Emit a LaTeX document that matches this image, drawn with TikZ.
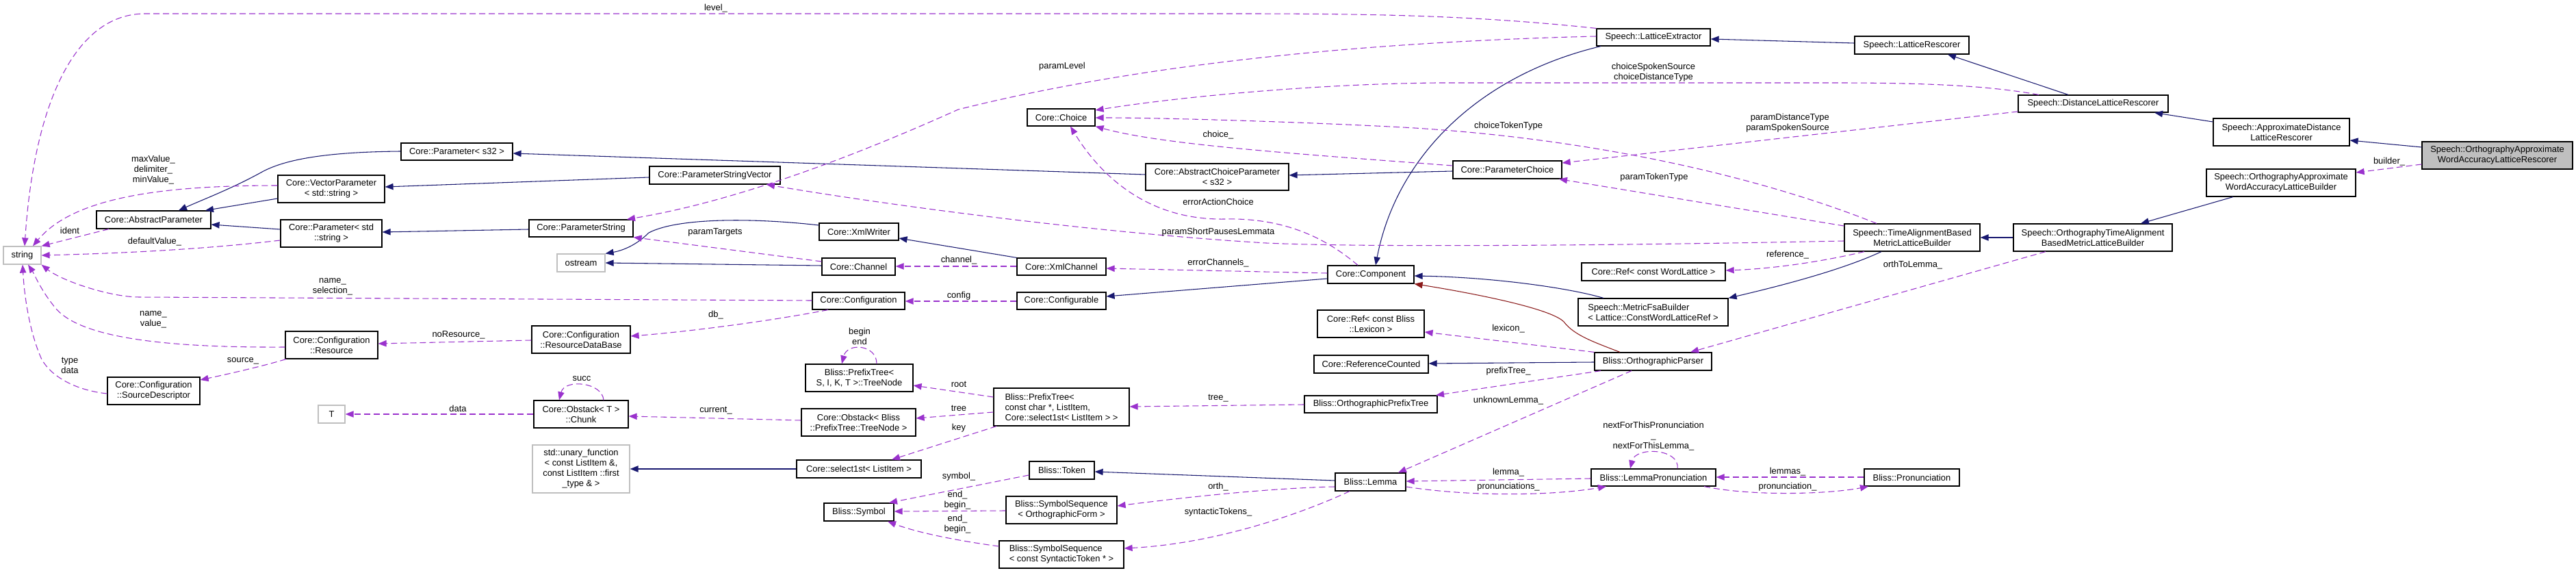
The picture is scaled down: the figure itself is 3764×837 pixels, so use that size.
\documentclass[tikz,border=0pt]{standalone}
\usepackage{fontspec}
\setmainfont{Liberation Sans}
\usetikzlibrary{arrows.meta}
\definecolor{dblue}{HTML}{191970}
\definecolor{purp}{HTML}{9A32CD}
\definecolor{dred}{HTML}{8B1A1A}
\definecolor{gbord}{HTML}{BFBFBF}
\definecolor{gfill}{HTML}{BFBFBF}
\tikzset{
  clsbox/.style={draw=black, line width=0.9pt, fill=white, inner sep=1pt, align=center, font=\fontsize{9.7}{11.25}\selectfont},
  extbox/.style={draw=gbord},
  focusbox/.style={fill=gfill},
  lbl/.style={inner sep=0pt, align=center, font=\fontsize{9.7}{11.25}\selectfont},
  inhline/.style={draw=dblue, line width=0.8pt, -{Triangle[length=9pt,width=7pt]}},
  privline/.style={draw=dred, line width=0.8pt, -{Triangle[length=9pt,width=7pt]}},
  useline/.style={draw=purp, line width=0.8pt, dash pattern=on 6.75pt off 3.75pt, -{Triangle[length=9pt,width=7pt]}},
}
\newcommand{\mkcls}[7][]{%
  \node[clsbox,#1,minimum width={(#5-#3)*0.75pt},minimum height={(#6-#4)*0.75pt}] (#2) at ({(#3+#5)/2},{(#4+#6)/2}) {#7};}
\begin{document}
\begin{tikzpicture}[x=0.75pt,y=-0.75pt]
\fill[white] (0,0) rectangle (3764,837);
\useasboundingbox (0,0) rectangle (3764,837);
% nodes
\mkcls[extbox]{string}{5}{360}{60}{386}{string}
\mkcls{absparam}{141}{308}{308}{334}{Core::AbstractParameter}
\mkcls{vecparam}{406}{256}{562}{296}{Core::VectorParameter\\< std::string >}
\mkcls{paramstr}{410}{321}{558}{361}{Core::Parameter< std\\::string >}
\mkcls{params32}{586}{209}{749}{234}{Core::Parameter< s32 >}
\mkcls{resource}{417}{484}{552}{524}{Core::Configuration\\::Resource}
\mkcls{srcdesc}{157}{551}{292}{591}{Core::Configuration\\::SourceDescriptor}
\mkcls[extbox]{tnode}{465}{592}{504}{618}{T}
\mkcls{psv}{949}{243}{1140}{269}{Core::ParameterStringVector}
\mkcls{pstring}{773}{321}{925}{346}{Core::ParameterString}
\mkcls[extbox]{ostream}{814}{371}{884}{397}{ostream}
\mkcls{xmlwriter}{1197}{326}{1313}{351}{Core::XmlWriter}
\mkcls{channel}{1201}{377}{1308}{402}{Core::Channel}
\mkcls{rdb}{777}{476}{921}{516}{Core::Configuration\\::ResourceDataBase}
\mkcls{config}{1187}{427}{1322}{452}{Core::Configuration}
\mkcls{treenode}{1177}{532}{1334}{572}{Bliss::PrefixTree<\\S, I, K, T >::TreeNode}
\mkcls{chunk}{780}{585}{918}{625}{Core::Obstack< T >\\::Chunk}
\mkcls{obstack}{1171}{597}{1338}{637}{Core::Obstack< Bliss\\::PrefixTree::TreeNode >}
\mkcls[extbox]{unary}{778}{650}{920}{720}{std::unary\_function\\< const ListItem \&,\\const ListItem ::first\\\_type \& >}
\mkcls{select1st}{1164}{672}{1346}{698}{Core::select1st< ListItem >}
\mkcls{symbol}{1204}{735}{1306}{761}{Bliss::Symbol}
\mkcls{choice}{1501}{159}{1600}{184}{Core::Choice}
\mkcls{acp}{1674}{239}{1883}{278}{Core::AbstractChoiceParameter\\< s32 >}
\mkcls{xmlchannel}{1486}{377}{1616}{402}{Core::XmlChannel}
\mkcls{configurable}{1486}{427}{1616}{452}{Core::Configurable}
\mkcls[align=left]{ptree}{1452}{567}{1650}{622}{Bliss::PrefixTree<\\ const char *, ListItem,\\ Core::select1st< ListItem > >}
\mkcls{token}{1504}{674}{1599}{700}{Bliss::Token}
\mkcls{sso}{1470}{725}{1632}{765}{Bliss::SymbolSequence\\< OrthographicForm >}
\mkcls[align=left]{sst}{1460}{790}{1642}{830}{Bliss::SymbolSequence\\< const SyntacticToken * >}
\mkcls{lext}{2333}{42}{2499}{67}{Speech::LatticeExtractor}
\mkcls{pchoice}{2123}{235}{2282}{261}{Core::ParameterChoice}
\mkcls{component}{1940}{388}{2066}{414}{Core::Component}
\mkcls{refwl}{2311}{384}{2521}{410}{Core::Ref< const WordLattice >}
\mkcls[align=left]{mfsa}{2306}{436}{2525}{476}{Speech::MetricFsaBuilder\\< Lattice::ConstWordLatticeRef >}
\mkcls{reflex}{1925}{453}{2081}{493}{Core::Ref< const Bliss\\::Lexicon >}
\mkcls{refcount}{1920}{519}{2087}{545}{Core::ReferenceCounted}
\mkcls{opt}{1906}{578}{2100}{603}{Bliss::OrthographicPrefixTree}
\mkcls{oparser}{2330}{515}{2501}{541}{Bliss::OrthographicParser}
\mkcls{lemma}{1951}{691}{2054}{717}{Bliss::Lemma}
\mkcls{lpron}{2325}{685}{2507}{710}{Bliss::LemmaPronunciation}
\mkcls{lrescorer}{2710}{53}{2877}{79}{Speech::LatticeRescorer}
\mkcls{dlr}{2949}{139}{3168}{164}{Speech::DistanceLatticeRescorer}
\mkcls{tab}{2695}{327}{2893}{367}{Speech::TimeAlignmentBased\\MetricLatticeBuilder}
\mkcls{otab}{2942}{327}{3174}{367}{Speech::OrthographyTimeAlignment\\BasedMetricLatticeBuilder}
\mkcls{pron}{2724}{685}{2863}{710}{Bliss::Pronunciation}
\mkcls{adlr}{3234}{173}{3433}{213}{Speech::ApproximateDistance\\LatticeRescorer}
\mkcls[focusbox]{oawalr}{3539}{207}{3759}{247}{Speech::OrthographyApproximate\\WordAccuracyLatticeRescorer}
\mkcls{oawalb}{3224}{247}{3442}{287}{Speech::OrthographyApproximate\\WordAccuracyLatticeBuilder}
% inheritance
\draw[inhline] (vecparam.west |- 0,290) -- (300,0 |- absparam.north);
\draw[inhline] (paramstr.west |- 0,335) -- (absparam.east |- 0,328);
\draw[inhline] (params32.west |- 0,221) .. controls (480,222) and (420,232) .. (385,250) .. controls (340,275) and (300,290) .. (261,0 |- absparam.north);
\draw[inhline] (psv.west |- 0,259) -- (vecparam.east |- 0,273);
\draw[inhline] (pstring.west |- 0,335) -- (paramstr.east |- 0,339);
\draw[inhline] (acp.west |- 0,255) -- (params32.east |- 0,224);
\draw[inhline] (pchoice.west |- 0,250) -- (acp.east |- 0,256);
\draw[inhline] (xmlwriter.west |- 0,329) .. controls (1100,318) and (990,318) .. (948,340) .. controls (930,358) and (910,366) .. (ostream.north east);
\draw[inhline] (channel.west |- 0,388) -- (ostream.east |- 0,384);
\draw[inhline] (xmlchannel.north west) -- (xmlwriter.east |- 0,348);
\draw[inhline] (component.west |- 0,407) -- (configurable.east |- 0,433);
\draw[inhline] (2339,0 |- lext.south) .. controls (2160,110) and (2040,230) .. (2010,0 |- component.north);
\draw[inhline] (lrescorer.west |- 0,63) -- (lext.east |- 0,57);
\draw[inhline] (3022,0 |- dlr.north) -- (2846,0 |- lrescorer.south);
\draw[inhline] (adlr.west |- 0,178) -- (3148,0 |- dlr.south);
\draw[inhline] (oawalr.west |- 0,215) -- (adlr.east |- 0,205);
\draw[inhline] (3263,0 |- oawalb.south) -- (3128,0 |- otab.north);
\draw[inhline] (otab.west |- 0,347) -- (tab.east |- 0,347);
\draw[inhline] (2749,0 |- tab.south) .. controls (2690,395) and (2600,418) .. (mfsa.north east);
\draw[inhline] (2343,0 |- mfsa.north) .. controls (2290,420) and (2180,405) .. (component.east |- 0,403);
\draw[inhline] (oparser.west |- 0,529) -- (refcount.east |- 0,531);
\draw[privline] (2367,0 |- oparser.north) .. controls (2330,500) and (2300,490) .. (2285,470) .. controls (2265,450) and (2150,428) .. (component.south east);
\draw[inhline] (lemma.west |- 0,702) -- (token.east |- 0,689);
\draw[inhline] (select1st.west |- 0,685) -- (unary.east |- 0,685);
% usage
\draw[useline] (lext.north west) .. controls (2150,22) and (2000,20) .. (1800,20) -- (212,20) .. controls (110,20) and (50,150) .. (36,0 |- string.north);
\draw[useline] (vecparam.west |- 0,271) .. controls (250,271) and (110,285) .. (48,0 |- string.north);
\draw[useline] (159,0 |- absparam.south) -- (string.north east);
\draw[useline] (paramstr.west |- 0,351) .. controls (300,364) and (180,370) .. (string.east |- 0,373);
\draw[useline] (config.west |- 0,439) -- (204,434) .. controls (160,434) and (90,410) .. (string.south east);
\draw[useline] (resource.west |- 0,507) .. controls (250,508) and (120,495) .. (82,451) .. controls (60,425) and (50,400) .. (41,0 |- string.south);
\draw[useline] (srcdesc.west |- 0,575) .. controls (110,570) and (75,550) .. (61,525) .. controls (45,490) and (36,440) .. (33,0 |- string.south);
\draw[useline] (418,0 |- resource.south) .. controls (380,536) and (330,547) .. (srcdesc.east |- 0,555);
\draw[useline] (rdb.west |- 0,497) -- (resource.east |- 0,502);
\draw[useline] (1210,0 |- config.south) .. controls (1120,470) and (1000,485) .. (rdb.east |- 0,491);
\draw[useline] (configurable.west |- 0,440) -- (config.east |- 0,440);
\draw[useline] (chunk.west |- 0,605) -- (tnode.east |- 0,605);
\draw[useline] (882,0 |- chunk.north) .. controls (880,558) and (825,553) .. (817,0 |- chunk.north);
\draw[useline] (obstack.west |- 0,614) -- (chunk.east |- 0,608);
\draw[useline] (1281,0 |- treenode.north) .. controls (1281,503) and (1238,500) .. (1230,0 |- treenode.north);
\draw[useline] (ptree.west |- 0,580) -- (treenode.east |- 0,563);
\draw[useline] (ptree.west |- 0,602) -- (obstack.east |- 0,611);
\draw[useline] (1456,0 |- ptree.south) -- (1303,0 |- select1st.north);
\draw[useline] (opt.west |- 0,591) -- (ptree.east |- 0,594);
\draw[useline] (token.west |- 0,694) -- (1299,0 |- symbol.north);
\draw[useline] (sso.west |- 0,746) -- (symbol.east |- 0,747);
\draw[useline] (sst.west |- 0,798) .. controls (1400,790) and (1340,778) .. (1297,0 |- symbol.south);
\draw[useline] (lemma.west |- 0,711) .. controls (1850,713) and (1720,728) .. (sso.east |- 0,739);
\draw[useline] (1972,0 |- lemma.south) .. controls (1880,760) and (1760,795) .. (sst.east |- 0,801);
\draw[useline] (component.west |- 0,399) -- (xmlchannel.east |- 0,392);
\draw[useline] (1984,0 |- component.north) .. controls (1940,350) and (1880,318) .. (1790,320) .. controls (1680,322) and (1610,260) .. (1564,0 |- choice.south);
\draw[useline] (pchoice.west |- 0,242) .. controls (1900,225) and (1700,212) .. (choice.south east);
\draw[useline] (2979,0 |- dlr.north) .. controls (2900,124) and (2800,121) .. (2680,121) -- (2100,121) .. controls (1900,123) and (1700,145) .. (choice.east |- 0,161);
\draw[useline] (2742,0 |- tab.north) .. controls (2550,250) and (2300,200) .. (2050,186) .. controls (1900,178) and (1700,172) .. (choice.east |- 0,172);
\draw[useline] (dlr.west |- 0,163) -- (pchoice.east |- 0,238);
\draw[useline] (tab.west |- 0,330) -- (2278,0 |- pchoice.south);
\draw[useline] (lext.west |- 0,53) .. controls (2050,60) and (1700,85) .. (1400,160) .. controls (1300,205) and (1100,290) .. (916,0 |- pstring.north);
\draw[useline] (tab.west |- 0,352) .. controls (2400,358) and (2000,362) .. (1850,355) .. controls (1600,340) and (1300,300) .. (1120,0 |- psv.south);
\draw[useline] (2724,0 |- tab.south) .. controls (2650,385) and (2580,393) .. (refwl.east |- 0,395);
\draw[useline] (oparser.north west) -- (reflex.east |- 0,485);
\draw[useline] (2339,0 |- oparser.south) -- (2098,0 |- opt.north);
\draw[useline] (2384,0 |- oparser.south) -- (2043,0 |- lemma.north);
\draw[useline] (2989,0 |- otab.south) -- (2470,0 |- oparser.north);
\draw[useline] (lpron.west |- 0,699) -- (lemma.east |- 0,703);
\draw[useline] (lemma.east |- 0,711) .. controls (2150,726) and (2270,724) .. (2347,0 |- lpron.south);
\draw[useline] (2451,0 |- lpron.north) .. controls (2455,655) and (2390,652) .. (2382,0 |- lpron.north);
\draw[useline] (pron.west |- 0,697) -- (lpron.east |- 0,697);
\draw[useline] (2490,0 |- lpron.south) .. controls (2560,725) and (2670,722) .. (2730,0 |- pron.south);
\draw[useline] (oawalr.west |- 0,240) -- (oawalb.east |- 0,252);
\draw[useline] (channel.west |- 0,382) -- (pstring.south east);
\draw[useline] (xmlchannel.west |- 0,389) -- (channel.east |- 0,389);
% labels
\node[lbl] (l01) at (1046,12) {level\_};
\node[lbl] (l02) at (224,248) {maxValue\_\\delimiter\_\\minValue\_};
\node[lbl] (l03) at (102,337) {ident};
\node[lbl] (l04) at (226,353) {defaultValue\_};
\node[lbl] (l05) at (486,419) {name\_\\selection\_};
\node[lbl] (l06) at (224,467) {name\_\\value\_};
\node[lbl] (l07) at (102,534) {type\\data};
\node[lbl] (l08) at (355,527) {source\_};
\node[lbl] (l09) at (670,489) {noResource\_};
\node[lbl] (l10) at (1046,460) {db\_};
\node[lbl] (l11) at (1045,339) {paramTargets};
\node[lbl] (l12) at (1401,432) {config};
\node[lbl] (l13) at (1256,491) {begin\\end};
\node[lbl] (l14) at (850,553) {succ};
\node[lbl] (l15) at (669,597) {data};
\node[lbl] (l16) at (1046,600) {current\_};
\node[lbl] (l17) at (1401,561) {root};
\node[lbl] (l18) at (1401,596) {tree};
\node[lbl] (l19) at (1401,625) {key};
\node[lbl] (l20) at (1780,582) {tree\_};
\node[lbl] (l21) at (1401,696) {symbol\_};
\node[lbl] (l22) at (1399,731) {end\_\\begin\_};
\node[lbl] (l23) at (1399,766) {end\_\\begin\_};
\node[lbl] (l24) at (1780,711) {orth\_};
\node[lbl] (l25) at (1780,748) {syntacticTokens\_};
\node[lbl] (l26) at (1552,97) {paramLevel};
\node[lbl] (l27) at (1780,197) {choice\_};
\node[lbl] (l28) at (1780,295) {errorActionChoice};
\node[lbl] (l29) at (1780,339) {paramShortPausesLemmata};
\node[lbl] (l30) at (1780,384) {errorChannels\_};
\node[lbl] (l31) at (1401,380) {channel\_};
\node[lbl] (l32) at (2416,106) {choiceSpokenSource\\choiceDistanceType};
\node[lbl] (l33) at (2204,184) {choiceTokenType};
\node[lbl] (l34) at (2417,259) {paramTokenType};
\node[lbl] (l35) at (2204,480) {lexicon\_};
\node[lbl] (l36) at (2204,542) {prefixTree\_};
\node[lbl] (l37) at (2204,585) {unknownLemma\_};
\node[lbl] (l38) at (2204,690) {lemma\_};
\node[lbl] (l39) at (2204,711) {pronunciations\_};
\node[lbl] (l40) at (2416,637) {nextForThisPronunciation\\\_\\nextForThisLemma\_};
\node[lbl, align=right] (l41) at (2612,180) {paramDistanceType\\paramSpokenSource};
\node[lbl] (l42) at (2612,372) {reference\_};
\node[lbl] (l43) at (2795,387) {orthToLemma\_};
\node[lbl] (l44) at (2612,689) {lemmas\_};
\node[lbl] (l45) at (2612,711) {pronunciation\_};
\node[lbl] (l46) at (3491,236) {builder\_};
\end{tikzpicture}
\end{document}
